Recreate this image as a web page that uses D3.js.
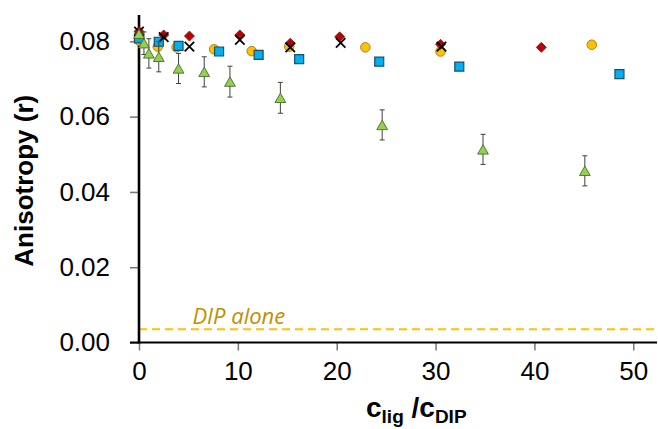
<!DOCTYPE html>
<html><head><meta charset="utf-8">
<script src="https://cdn.jsdelivr.net/npm/d3@7"></script>
<style>
body{margin:0;background:#fff;}
svg{display:block;}
</style></head>
<body>
<svg id="chart" width="658" height="429"></svg>
<script>
// ---- data ----
const circleX = [0, 1.9, 3.8, 7.6, 11.4, 15.2, 22.9, 30.5, 45.8];
const circleY = [0.0802, 0.0786, 0.0784, 0.0779, 0.0774, 0.0786, 0.0784, 0.0773, 0.0791];

const squareX = [0, 2.0, 4.0, 8.1, 12.1, 16.2, 24.3, 32.4, 48.6];
const squareY = [0.0808, 0.0799, 0.0788, 0.0773, 0.0764, 0.0753, 0.0746, 0.0733, 0.0713];

const diamondX = [0, 2.5, 5.1, 10.2, 15.3, 20.3, 30.5, 40.7];
const diamondY = [0.0826, 0.0817, 0.0814, 0.0817, 0.0795, 0.0812, 0.0792, 0.0784];

const crossX = [0, 2.5, 5.1, 10.2, 15.3, 20.4, 30.6];
const crossY = [0.0826, 0.0811, 0.0786, 0.0804, 0.0784, 0.0796, 0.0786];

const triX = [0, 0.5, 1.0, 2.0, 4.0, 6.6, 9.2, 14.3, 24.6, 34.8, 45.1];
const triY = [0.0820, 0.0795, 0.0768, 0.0759, 0.0728, 0.0719, 0.0693, 0.0650, 0.0578, 0.0513, 0.0456];
const triErr = [0.0010, 0.0030, 0.0039, 0.0040, 0.0040, 0.0040, 0.0041, 0.0041, 0.0040, 0.0040, 0.0040];

const dipAlone = 0.0035;

const xTicks = [0, 10, 20, 30, 40, 50];
const yTicks = [0, 0.02, 0.04, 0.06, 0.08];

// ---- chart ----
const svg = d3.select("#chart");
const x = d3.scaleLinear().domain([0, 52.4]).range([139, 657]);
const y = d3.scaleLinear().domain([0, 0.087]).range([342.5, 15]);

const font = "Liberation Sans, Arial, sans-serif";

// dashed DIP alone line
svg.append("line")
  .attr("x1", x(0)).attr("x2", x(52.4))
  .attr("y1", y(dipAlone)).attr("y2", y(dipAlone))
  .attr("stroke", "#FFC000").attr("stroke-width", 2)
  .attr("stroke-dasharray", "8,5");
svg.append("text")
  .attr("x", x(5.4)).attr("y", y(dipAlone) - 5)
  .attr("font-family", "Open Sans, sans-serif").attr("font-style", "italic")
  .attr("font-size", 22).attr("fill", "#BF9000")
  .text("DIP alone");

// axes
const xAxis = svg.append("g").attr("transform", `translate(0,${y(0)})`)
  .call(d3.axisBottom(x).tickValues(xTicks).tickFormat(d3.format("d")).tickSize(8).tickPadding(11).tickSizeOuter(0));
const yAxis = svg.append("g").attr("transform", `translate(${x(0)},0)`)
  .call(d3.axisLeft(y).tickValues(yTicks).tickFormat(d3.format(".2f")).tickSize(9).tickPadding(20).tickSizeOuter(0));

[xAxis, yAxis].forEach(g => {
  g.select(".domain").remove();
  g.selectAll(".tick line").attr("stroke", "#777").attr("stroke-width", 1.5);
  g.selectAll(".tick text").attr("font-family", font).attr("font-size", 26).attr("fill", "#000");
});
svg.append("line").attr("x1", x(0) - 9).attr("x2", 657)
  .attr("y1", y(0)).attr("y2", y(0)).attr("stroke", "#000").attr("stroke-width", 2);
svg.append("line").attr("x1", x(0)).attr("x2", x(0))
  .attr("y1", y(0.087)).attr("y2", y(0) + 1).attr("stroke", "#000").attr("stroke-width", 2.6);

// axis titles
svg.append("text")
  .attr("transform", `translate(33,${(y(0) + y(0.087)) / 2 + 2}) rotate(-90)`)
  .attr("text-anchor", "middle")
  .attr("font-family", font).attr("font-weight", "bold").attr("font-size", 26)
  .text("Anisotropy (r)");

const xt = svg.append("text").attr("x", 366).attr("y", 417)
  .attr("font-family", font).attr("font-weight", "bold").attr("font-size", 28);
xt.append("tspan").text("c");
xt.append("tspan").attr("font-size", 19).attr("dy", 6).text("lig");
xt.append("tspan").attr("dy", -6).text(" /c");
xt.append("tspan").attr("font-size", 19).attr("dy", 6).text("DIP");

// markers
const plot = svg.append("g");
function pts(xs, ys) { return xs.map((v, i) => ({ x: v, y: ys[i] })); }

plot.selectAll(".circ").data(pts(circleX, circleY)).join("path")
  .attr("d", d3.symbol(d3.symbolCircle, 72))
  .attr("transform", d => `translate(${x(d.x)},${y(d.y)})`)
  .attr("fill", "#FFC000").attr("stroke", "#9C7A20").attr("stroke-width", 0.9);

plot.selectAll(".sq").data(pts(squareX, squareY)).join("path")
  .attr("d", d3.symbol(d3.symbolSquare, 81))
  .attr("transform", d => `translate(${x(d.x)},${y(d.y)})`)
  .attr("fill", "#00B0F0").attr("stroke", "#1F4E60").attr("stroke-width", 1.2);

plot.selectAll(".dia").data(pts(diamondX, diamondY)).join("path")
  .attr("d", d3.symbol(d3.symbolSquare, 50))
  .attr("transform", d => `translate(${x(d.x)},${y(d.y)}) rotate(45)`)
  .attr("fill", "#C00000").attr("stroke", "#7A1A1A").attr("stroke-width", 0.8);

plot.selectAll(".crs").data(pts(crossX, crossY)).join("path")
  .attr("d", d3.symbol(d3.symbolX, 60))
  .attr("transform", d => `translate(${x(d.x)},${y(d.y)})`)
  .attr("fill", "none").attr("stroke", "#000").attr("stroke-width", 1.8);

const triData = triX.map((v, i) => ({ x: v, y: triY[i], e: triErr[i] }));
const eb = plot.selectAll(".eb").data(triData).join("g").attr("stroke", "#404040").attr("stroke-width", 1);
eb.append("line").attr("x1", d => x(d.x)).attr("x2", d => x(d.x))
  .attr("y1", d => y(d.y - d.e)).attr("y2", d => y(d.y + d.e));
eb.append("line").attr("x1", d => x(d.x) - 2.5).attr("x2", d => x(d.x) + 2.5)
  .attr("y1", d => y(d.y - d.e)).attr("y2", d => y(d.y - d.e));
eb.append("line").attr("x1", d => x(d.x) - 2.5).attr("x2", d => x(d.x) + 2.5)
  .attr("y1", d => y(d.y + d.e)).attr("y2", d => y(d.y + d.e));

const triangleType = {
  draw(ctx, size) {
    const w = Math.sqrt(size) * 1.15, h = w * 0.87;
    ctx.moveTo(0, -h / 2); ctx.lineTo(w / 2, h / 2); ctx.lineTo(-w / 2, h / 2); ctx.closePath();
  }
};
plot.selectAll(".tri").data(triData).join("path")
  .attr("d", d3.symbol(triangleType, 88))
  .attr("transform", d => `translate(${x(d.x)},${y(d.y)})`)
  .attr("fill", "#92D050").attr("stroke", "#4E6B2A").attr("stroke-width", 0.9);
</script>
</body></html>
